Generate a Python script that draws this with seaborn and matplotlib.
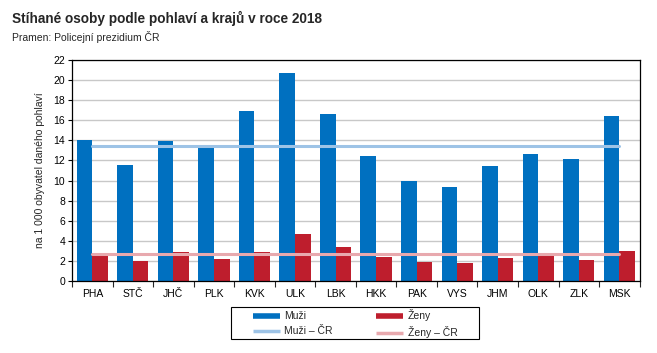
import seaborn as sns
import matplotlib.pyplot as plt
import pandas as pd
from matplotlib.lines import Line2D
from matplotlib.patches import Rectangle

# kraje a hodnoty (na 1 000 obyvatel daného pohlaví)
kraje = ["PHA", "STČ", "JHČ", "PLK", "KVK", "ULK", "LBK",
         "HKK", "PAK", "VYS", "JHM", "OLK", "ZLK", "MSK"]
muzi = [14.0, 11.5, 13.9, 13.3, 16.9, 20.7, 16.6,
        12.4, 10.0, 9.4, 11.4, 12.6, 12.1, 16.4]
zeny = [2.8, 2.0, 2.9, 2.2, 2.9, 4.7, 3.4,
        2.4, 1.9, 1.8, 2.3, 2.5, 2.1, 3.0]
muzi_cr = 13.4
zeny_cr = 2.65

blue = "#0070C0"
red = "#BE1E2D"
lblue = "#9DC3E6"
pink = "#E8A9AE"

df = pd.DataFrame({"kraj": kraje * 2,
                   "hodnota": muzi + zeny,
                   "pohlavi": ["Muži"] * len(kraje) + ["Ženy"] * len(kraje)})

sns.set_style("white")
plt.rcParams["font.family"] = ["Liberation Sans", "DejaVu Sans"]

fig = plt.figure(figsize=(6.57, 3.53), dpi=100)
ax = fig.add_axes([0.1096, 0.204, 0.864, 0.626])

sns.barplot(data=df, x="kraj", y="hodnota", hue="pohlavi",
            palette=[blue, red], saturation=1, width=0.77, linewidth=0,
            ax=ax, legend=False, zorder=2)

sns.lineplot(x=kraje, y=[muzi_cr] * len(kraje), color=lblue, lw=2.2,
             ax=ax, zorder=3)
sns.lineplot(x=kraje, y=[zeny_cr] * len(kraje), color=pink, lw=2.2,
             ax=ax, zorder=3)

ax.set_ylim(0, 22)
ax.set_xlim(-0.5, len(kraje) - 0.5)
ax.set_yticks(range(0, 23, 2))
ax.yaxis.grid(True, color="#C8C8C8", lw=1)
ax.set_axisbelow(True)
for s in ax.spines.values():
    s.set_color("black")
    s.set_linewidth(0.9)

ax.tick_params(axis="y", labelsize=7.5, length=3, width=0.8, left=True,
               pad=2, colors="black")
ax.tick_params(axis="x", labelsize=7.5, length=0, pad=6, colors="black")
ax.set_xticks(range(len(kraje)))
ax.set_xticklabels(kraje)
# tick marks between categories
ax.set_xticks([i - 0.5 for i in range(len(kraje) + 1)], minor=True)
ax.tick_params(axis="x", which="minor", length=4, width=0.8, bottom=True)

ax.set_xlabel("")
ax.set_ylabel("na 1 000 obyvatel daného pohlaví", fontsize=7.5, labelpad=6)

handles = [Line2D([], [], color=blue, lw=4, solid_capstyle="butt"),
           Line2D([], [], color=lblue, lw=2.5, solid_capstyle="butt"),
           Line2D([], [], color=red, lw=4, solid_capstyle="butt"),
           Line2D([], [], color=pink, lw=2.5, solid_capstyle="butt")]
labels = ["Muži", "Muži – ČR", "Ženy", "Ženy – ČR"]
leg = fig.legend(handles, labels, ncol=2, loc="upper left",
                 bbox_to_anchor=(0.377, 0.138), fontsize=7.5, frameon=False,
                 handlelength=2.6, columnspacing=4.2, borderpad=0,
                 labelspacing=0.45, handletextpad=0.4)
fig.patches.append(Rectangle((231 / 657, 1 - 339 / 353), 248 / 657, 32 / 353,
                             transform=fig.transFigure, fill=False,
                             edgecolor="black", lw=0.8))

fig.text(0.018, 0.935, "Stíhané osoby podle pohlaví a krajů v roce 2018",
         fontsize=9.8, fontweight="bold")
fig.text(0.018, 0.885, "Pramen: Policejní prezidium ČR", fontsize=7.5)

fig.savefig("out.png", dpi=100)
